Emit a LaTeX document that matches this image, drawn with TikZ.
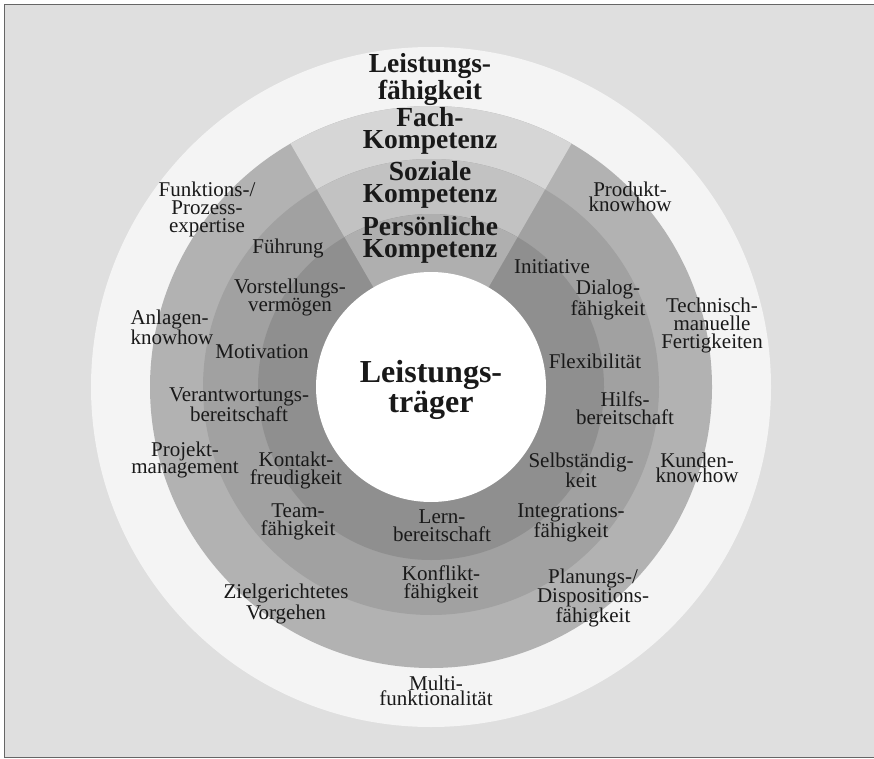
\documentclass[tikz,border=0pt]{standalone}
\usepackage{fontspec}
\setmainfont{Liberation Serif}
\definecolor{paper}{gray}{0.875}
\definecolor{framec}{gray}{0.40}
\definecolor{outerdisc}{gray}{0.955}
\definecolor{fachside}{gray}{0.70}
\definecolor{fachtop}{gray}{0.84}
\definecolor{sozside}{gray}{0.63}
\definecolor{soztop}{gray}{0.76}
\definecolor{persside}{gray}{0.56}
\definecolor{perstop}{gray}{0.685}
\definecolor{txt}{gray}{0.10}
\tikzset{
  lbl/.style={font=\fontsize{21}{18}\selectfont, align=center, text=txt, inner sep=0pt},
  tightlbl/.style={lbl, font=\fontsize{21}{15.5}\selectfont},
  head/.style={font=\bfseries\fontsize{27.5}{22.5}\selectfont, align=center, text=txt, inner sep=0pt},
}
\begin{document}
\begin{tikzpicture}[x=1pt,y=-1pt]
\useasboundingbox (0,0) rectangle (874,759);
\fill[white] (0,0) rectangle (874,759);
\fill[paper] (4,5) rectangle (874,757);
\draw[framec, line width=1pt] (874,5) -- (4,5) -- (4,757) -- (874,757);
\coordinate (C) at (431,387);
% rings
\fill[outerdisc] (C) circle[radius=340];
\fill[fachside] (C) circle[radius=281];
\fill[fachtop] (C) -- ++(-60:281) arc[start angle=-60,end angle=-120,radius=281] -- cycle;
\fill[sozside] (C) circle[radius=228];
\fill[soztop] (C) -- ++(-60:228) arc[start angle=-60,end angle=-120,radius=228] -- cycle;
\fill[persside] (C) circle[radius=173];
\fill[perstop] (C) -- ++(-60:173) arc[start angle=-60,end angle=-120,radius=173] -- cycle;
\fill[white] (C) circle[radius=115];
% headings
\node[head, font=\bfseries\fontsize{27.5}{27}\selectfont] (lf) at (430,79) {Leistungs-\\fähigkeit};
\node[head] (fk) at (430,131) {Fach-\\Kompetenz};
\node[head] (sk) at (430,185) {Soziale\\Kompetenz};
\node[head] (pk) at (430,240) {Persönliche\\Kompetenz};
\node[head, font=\bfseries\fontsize{32}{30}\selectfont] (lt) at (431,390) {Leistungs-\\träger};
% left labels
\node[lbl] (fpe) at (207,209) {Funktions-/\\Prozess-\\expertise};
\node[lbl] (fue) at (288,248) {Führung};
\node[lbl] (vor) at (290,297) {Vorstellungs-\\vermögen};
\node[tightlbl, align=left] (anl) at (172,327) {Anlagen-\\knowhow};
\node[lbl] (mot) at (262,352) {Motivation};
\node[lbl] (ver) at (239,405) {Verantwortungs-\\bereitschaft};
\node[tightlbl] (prj) at (185,460) {Projekt-\\management};
\node[lbl] (kon) at (296,470) {Kontakt-\\freudigkeit};
\node[lbl] (tea) at (298,522) {Team-\\fähigkeit};
\node[tightlbl] (zie) at (286,604) {Zielgerichtetes\\Vorgehen};
% bottom labels
\node[lbl] (ler) at (442,526) {Lern-\\bereitschaft};
\node[lbl] (kfl) at (441,584) {Konflikt-\\fähigkeit};
\node[tightlbl] (mul) at (436,691) {Multi-\\funktionalität};
% right labels
\node[tightlbl] (pro) at (630,197) {Produkt-\\knowhow};
\node[lbl] (ini) at (552,267) {Initiative};
\node[lbl] (dia) at (608,300) {Dialog-\\fähigkeit};
\node[lbl] (tec) at (712,325) {Technisch-\\manuelle\\Fertigkeiten};
\node[lbl] (fle) at (595,361) {Flexibilität};
\node[lbl] (hil) at (625,408) {Hilfs-\\bereitschaft};
\node[lbl] (sel) at (581,470) {Selbständig-\\keit};
\node[tightlbl] (kun) at (697,468) {Kunden-\\knowhow};
\node[lbl] (int) at (571,523) {Integrations-\\fähigkeit};
\node[lbl, font=\fontsize{21}{16.5}\selectfont] (pla) at (593,598) {Planungs-/\\Dispositions-\\fähigkeit};
\end{tikzpicture}
\end{document}
